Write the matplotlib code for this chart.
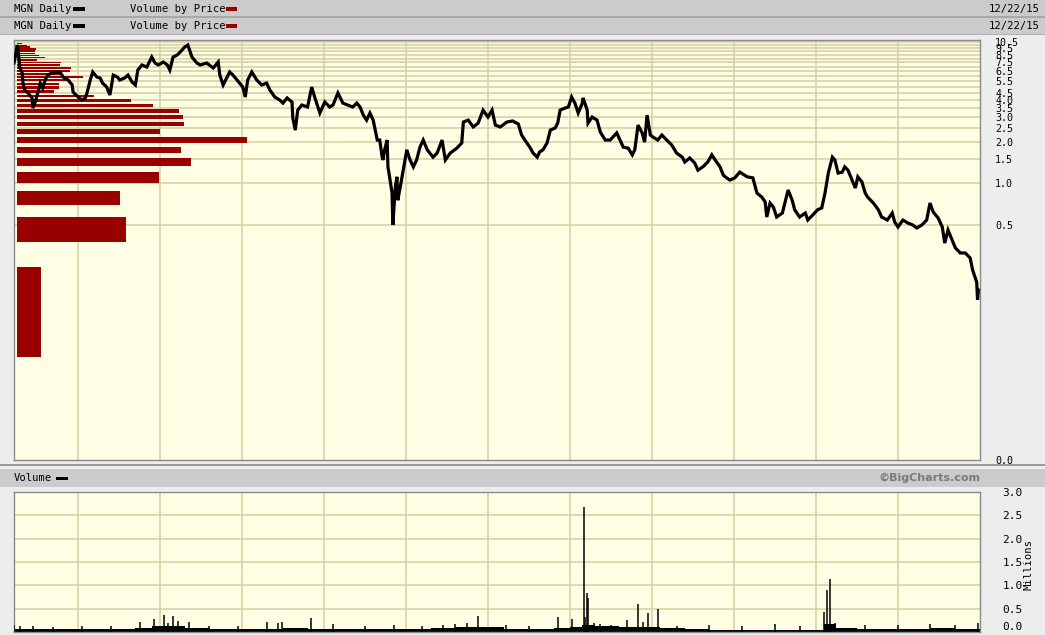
import matplotlib
matplotlib.use('Agg')
import matplotlib.pyplot as plt
from matplotlib.patches import Rectangle
from matplotlib.ticker import NullLocator
import numpy as np

# ---------------- data ----------------
price_years = [2004.22, 2004.24, 2004.26, 2004.28, 2004.29, 2004.32, 2004.33, 2004.35, 2004.39, 2004.44,
               2004.45, 2004.48, 2004.51, 2004.54, 2004.57, 2004.60, 2004.63, 2004.68, 2004.74, 2004.78,
               2004.82, 2004.88, 2004.93, 2004.94, 2005.00, 2005.05, 2005.09, 2005.11, 2005.15, 2005.18,
               2005.23, 2005.27, 2005.30, 2005.35, 2005.39, 2005.43, 2005.48, 2005.51, 2005.57, 2005.61,
               2005.66, 2005.70, 2005.73, 2005.78, 2005.84, 2005.90, 2005.94, 2005.98, 2006.04, 2006.09,
               2006.12, 2006.16, 2006.21, 2006.27, 2006.30, 2006.34, 2006.39, 2006.45, 2006.49, 2006.57,
               2006.65, 2006.71, 2006.73, 2006.77, 2006.85, 2006.89, 2006.94, 2007.01, 2007.04, 2007.07,
               2007.12, 2007.18, 2007.24, 2007.30, 2007.34, 2007.40, 2007.46, 2007.50, 2007.55, 2007.61,
               2007.62, 2007.65, 2007.68, 2007.73, 2007.80, 2007.85, 2007.89, 2007.95, 2008.01, 2008.07,
               2008.11, 2008.17, 2008.23, 2008.29, 2008.35, 2008.40, 2008.44, 2008.48, 2008.52, 2008.56,
               2008.60, 2008.62, 2008.65, 2008.68, 2008.71, 2008.72, 2008.74, 2008.77, 2008.78, 2008.80,
               2008.83, 2008.84, 2008.87, 2008.89, 2008.90, 2008.93, 2008.96, 2009.01, 2009.05, 2009.09,
               2009.13, 2009.17, 2009.21, 2009.26, 2009.29, 2009.33, 2009.38, 2009.44, 2009.48, 2009.54,
               2009.62, 2009.68, 2009.70, 2009.76, 2009.82, 2009.88, 2009.94, 2010.00, 2010.05, 2010.09,
               2010.15, 2010.23, 2010.30, 2010.37, 2010.41, 2010.45, 2010.51, 2010.55, 2010.60, 2010.63,
               2010.67, 2010.72, 2010.76, 2010.82, 2010.85, 2010.88, 2010.94, 2010.98, 2011.02, 2011.06,
               2011.10, 2011.15, 2011.16, 2011.21, 2011.22, 2011.27, 2011.33, 2011.37, 2011.43, 2011.49,
               2011.57, 2011.61, 2011.65, 2011.71, 2011.76, 2011.79, 2011.83, 2011.88, 2011.91, 2011.94,
               2011.98, 2012.01, 2012.07, 2012.12, 2012.18, 2012.24, 2012.30, 2012.37, 2012.40, 2012.46,
               2012.52, 2012.56, 2012.62, 2012.68, 2012.73, 2012.77, 2012.83, 2012.87, 2012.91, 2012.95,
               2013.01, 2013.07, 2013.16, 2013.23, 2013.28, 2013.34, 2013.38, 2013.40, 2013.44, 2013.48,
               2013.52, 2013.59, 2013.62, 2013.66, 2013.71, 2013.74, 2013.80, 2013.87, 2013.90, 2013.96,
               2014.02, 2014.07, 2014.11, 2014.15, 2014.20, 2014.23, 2014.27, 2014.32, 2014.35, 2014.39,
               2014.44, 2014.48, 2014.51, 2014.56, 2014.60, 2014.63, 2014.70, 2014.76, 2014.80, 2014.87,
               2014.93, 2014.96, 2015.00, 2015.06, 2015.12, 2015.18, 2015.23, 2015.29, 2015.35, 2015.39,
               2015.43, 2015.49, 2015.54, 2015.57, 2015.61, 2015.66, 2015.70, 2015.76, 2015.82, 2015.88,
               2015.91, 2015.96, 2015.97, 2015.98]
price_close = [7.42, 8.48, 10.02, 8.07, 6.94, 6.28, 5.31, 4.73, 4.50, 4.14,
               3.50, 3.87, 4.50, 5.31, 4.89, 5.59, 6.07, 6.28, 6.39, 6.39,
               5.87, 5.59, 5.14, 4.57, 4.21, 4.00, 4.14, 4.50, 5.59, 6.39,
               5.87, 5.78, 5.31, 4.97, 4.35, 6.07, 5.87, 5.59, 5.78, 6.07,
               5.40, 5.14, 6.60, 7.18, 6.94, 8.20, 7.42, 7.18, 7.55, 7.18,
               6.60, 8.20, 8.48, 9.22, 9.69, 10.02, 8.20, 7.42, 7.18, 7.42,
               6.83, 7.55, 6.07, 5.14, 6.39, 6.07, 5.59, 4.97, 4.21, 5.59,
               6.39, 5.59, 5.14, 5.31, 4.73, 4.21, 4.00, 3.80, 4.14, 3.87,
               2.96, 2.42, 3.38, 3.68, 3.56, 4.97, 4.14, 3.22, 3.87, 3.56,
               3.68, 4.50, 3.80, 3.68, 3.56, 3.80, 3.56, 3.11, 2.86, 3.22,
               2.86, 2.51, 2.05, 2.05, 1.54, 1.47, 1.74, 2.05, 1.31, 1.11,
               0.846, 0.496, 0.935, 1.11, 0.75, 0.935, 1.18, 1.74, 1.47, 1.31,
               1.47, 1.82, 2.05, 1.74, 1.65, 1.54, 1.65, 2.05, 1.47, 1.65,
               1.79, 1.95, 2.77, 2.86, 2.55, 2.72, 3.38, 3.01, 3.38, 2.63,
               2.55, 2.77, 2.82, 2.68, 2.23, 2.05, 1.82, 1.65, 1.54, 1.68,
               1.74, 1.95, 2.42, 2.51, 2.72, 3.38, 3.50, 3.56, 4.21, 3.80,
               3.22, 3.80, 4.14, 3.38, 2.72, 3.01, 2.86, 2.34, 2.05, 2.05,
               2.31, 2.05, 1.82, 1.79, 1.60, 1.74, 2.63, 2.31, 1.98, 3.11,
               2.23, 2.16, 2.05, 2.23, 2.05, 1.89, 1.65, 1.54, 1.42, 1.52,
               1.40, 1.24, 1.31, 1.42, 1.60, 1.47, 1.31, 1.14, 1.09, 1.05,
               1.09, 1.20, 1.11, 1.09, 0.846, 0.79, 0.73, 0.567, 0.716, 0.67,
               0.567, 0.606, 0.716, 0.89, 0.75, 0.64, 0.567, 0.606, 0.539, 0.586,
               0.64, 0.66, 0.846, 1.18, 1.54, 1.47, 1.18, 1.20, 1.31, 1.24,
               1.05, 0.92, 1.11, 1.02, 0.846, 0.79, 0.716, 0.64, 0.567, 0.539,
               0.606, 0.521, 0.48, 0.539, 0.513, 0.496, 0.472, 0.496, 0.539, 0.716,
               0.616, 0.557, 0.48, 0.367, 0.456, 0.386, 0.338, 0.311, 0.311, 0.286,
               0.234, 0.191, 0.142, 0.167]

# volume by price: price-bin centres and relative volume
vbp_price = [0.150, 0.468, 0.786, 1.104, 1.422, 1.740, 2.058, 2.376, 2.694, 3.012,
             3.330, 3.648, 3.966, 4.284, 4.602, 4.920, 5.238, 5.556, 5.874, 6.192,
             6.510, 6.828, 7.146, 7.464, 7.782, 8.100, 8.418, 8.736, 9.054, 9.372,
             9.690, 10.008, 10.326]
vbp_volume = [24, 109, 103, 142, 174, 164, 230, 143, 167, 166,
              162, 136, 114, 77, 37, 42, 42, 53, 66, 44,
              53, 54, 43, 44, 20, 28, 22, 18, 18, 19,
              13, 10, 5]

# daily volume (millions): typical base level and notable spikes
vol_base_years = [2004.22, 2004.5, 2004.8, 2005.1, 2005.4, 2005.7, 2005.9, 2006.1, 2006.3, 2006.6,
                  2006.9, 2007.2, 2007.5, 2007.8, 2008.1, 2008.4, 2008.7, 2009.0, 2009.3, 2009.6,
                  2009.9, 2010.2, 2010.5, 2010.8, 2011.0, 2011.15, 2011.3, 2011.6, 2011.9, 2012.1,
                  2012.4, 2012.7, 2013.0, 2013.3, 2013.6, 2013.9, 2014.1, 2014.25, 2014.5, 2014.8,
                  2015.1, 2015.4, 2015.7, 2016.0]
vol_base = [0.06, 0.07, 0.06, 0.07, 0.06, 0.08, 0.12, 0.13, 0.09, 0.06,
            0.07, 0.07, 0.08, 0.07, 0.06, 0.06, 0.07, 0.06, 0.08, 0.10,
            0.11, 0.07, 0.06, 0.08, 0.11, 0.15, 0.13, 0.10, 0.11, 0.08,
            0.06, 0.05, 0.05, 0.05, 0.05, 0.05, 0.17, 0.08, 0.06, 0.07,
            0.07, 0.08, 0.07, 0.09]
vol_spike_years = [2004.22, 2004.29, 2004.45, 2004.70, 2005.05, 2005.40, 2005.76, 2005.93, 2006.05, 2006.10,
                   2006.16, 2006.22, 2006.35, 2006.60, 2006.95, 2007.30, 2007.44, 2007.49, 2007.84, 2008.11,
                   2008.50, 2008.85, 2009.20, 2009.45, 2009.60, 2009.75, 2009.88, 2010.22, 2010.50, 2010.85,
                   2011.02, 2011.17, 2011.18, 2011.21, 2011.22, 2011.29, 2011.37, 2011.50, 2011.70, 2011.83,
                   2011.89, 2011.95, 2012.07, 2012.30, 2012.70, 2013.10, 2013.50, 2013.80, 2014.10, 2014.13,
                   2014.17, 2014.23, 2014.60, 2015.00, 2015.39, 2015.70, 2015.98]
vol_spikes = [0.15, 0.13, 0.12, 0.11, 0.12, 0.12, 0.22, 0.27, 0.36, 0.19,
              0.35, 0.24, 0.21, 0.13, 0.12, 0.21, 0.20, 0.22, 0.30, 0.17,
              0.12, 0.14, 0.13, 0.16, 0.18, 0.20, 0.35, 0.16, 0.12, 0.33,
              0.28, 2.68, 0.33, 0.83, 0.73, 0.20, 0.18, 0.16, 0.26, 0.60,
              0.22, 0.40, 0.49, 0.13, 0.15, 0.12, 0.17, 0.12, 0.42, 0.90,
              1.13, 0.19, 0.14, 0.15, 0.17, 0.14, 0.20]

year_grid = [2005, 2006, 2007, 2008, 2009, 2010, 2011, 2012, 2013, 2014, 2015]
price_tick_vals = [10.5, 9.5, 8.5, 7.5, 6.5, 5.5, 4.5, 4.0, 3.5, 3.0, 2.5, 2.0, 1.5, 1.0, 0.5]
vol_tick_vals = [0.0, 0.5, 1.0, 1.5, 2.0, 2.5, 3.0]

# ---------------- styling ----------------
W, H = 1045, 635
BG = '#EDEDED'
STRIP = '#CBCBCB'
FACE = '#FFFEE4'
GRID = '#D3D0A3'
RED = '#990000'
MONO = 'DejaVu Sans Mono'

fig = plt.figure(figsize=(W / 100, H / 100), dpi=100)
fig.patch.set_facecolor(BG)


def fx(px):
    return px / W


def fy(py):
    return 1 - py / H


def strip(y0, y1, color=STRIP):
    fig.patches.append(Rectangle((0, fy(y1)), 1, (y1 - y0) / H, transform=fig.transFigure,
                                 facecolor=color, edgecolor='none', zorder=0))


strip(0, 16)
strip(16, 18, '#A8A8A8')
strip(18, 34)
strip(34, 35, '#B0B0B0')
strip(464, 466, '#9A9A9A')
strip(469, 487)

fs = 7.6
for ytop in (9, 26):
    fig.text(fx(14), fy(ytop), 'MGN Daily', fontsize=fs, family=MONO, va='center', ha='left')
    fig.patches.append(Rectangle((fx(73), fy(ytop + 1.5)), 12 / W, 3 / H, transform=fig.transFigure,
                                 facecolor='black', edgecolor='none'))
    fig.text(fx(130), fy(ytop), 'Volume by Price', fontsize=fs, family=MONO, va='center', ha='left')
    fig.patches.append(Rectangle((fx(226), fy(ytop + 1.5)), 11 / W, 3 / H, transform=fig.transFigure,
                                 facecolor=RED, edgecolor='none'))
    fig.text(fx(1040), fy(ytop), '12/22/15', fontsize=fs, family=MONO, va='center', ha='right')

fig.text(fx(14), fy(478), 'Volume', fontsize=fs, family=MONO, va='center', ha='left')
fig.patches.append(Rectangle((fx(56), fy(479.5)), 12 / W, 3 / H, transform=fig.transFigure,
                             facecolor='black', edgecolor='none'))
fig.text(fx(981), fy(478), '\u00a9BigCharts.com', fontsize=8, family='DejaVu Sans',
         weight='bold', color='#7A7A7A', va='center', ha='right')

# ---------------- main price panel ----------------
ax = fig.add_axes([fx(14), fy(460), 966 / W, 420 / H])
ax.set_facecolor(FACE)
ax.set_yscale('log')
ax.set_ylim(0.0098, 10.9)
x0, x1 = 2004.22, 2016.0
ax.set_xlim(x0, x1)

for yr in year_grid:
    ax.axvline(yr, color=GRID, lw=1.1, zorder=1)
for lvl in np.arange(0.5, 10.51, 0.5):
    ax.axhline(lvl, color=GRID, lw=1.1, zorder=1)

vmax = max(vbp_volume)
bar_w = [v / vmax * (230 / 966) for v in vbp_volume]
ax.barh(vbp_price, bar_w, left=3 / 966, height=0.19, color=RED, edgecolor='none',
        transform=ax.get_yaxis_transform(), zorder=2)
ax.set_xlim(x0, x1)
ax.set_ylim(0.0098, 10.9)

ax.plot(price_years, price_close, color='black', lw=2.3, zorder=3, solid_joinstyle='miter')

ax.yaxis.tick_right()
ax.yaxis.set_minor_locator(NullLocator())
ax.set_yticks(price_tick_vals + [0.0098])
ax.set_yticklabels([f'{v:.1f}' for v in price_tick_vals] + ['0.0'])
ax.tick_params(axis='y', length=0, pad=11, labelsize=7.2)
for t in ax.get_yticklabels():
    t.set_family(MONO)
ax.set_xticks([])
for s in ax.spines.values():
    s.set_color('#8A8A8A')
    s.set_linewidth(1.0)

# ---------------- volume panel ----------------
axv = fig.add_axes([fx(14), fy(632), 966 / W, 140 / H])
axv.set_facecolor(FACE)
axv.set_xlim(x0, x1)
axv.set_ylim(0, 3.0)
for yr in year_grid:
    axv.axvline(yr, color=GRID, lw=1.1, zorder=1)
for lvl in vol_tick_vals[1:-1]:
    axv.axhline(lvl, color=GRID, lw=1.1, zorder=1)
axv.fill_between(vol_base_years, vol_base, step='post', color='black', lw=0, zorder=2)
axv.vlines(vol_spike_years, 0, vol_spikes, color='black', lw=1.1, zorder=3)
axv.yaxis.tick_right()
axv.set_yticks(vol_tick_vals)
axv.set_yticklabels([f'{v:.1f}' for v in vol_tick_vals])
axv.tick_params(axis='y', length=0, pad=16, labelsize=8)
for t in axv.get_yticklabels():
    t.set_family(MONO)
axv.get_yticklabels()[0].set_verticalalignment('bottom')
axv.set_xticks([])
for s in axv.spines.values():
    s.set_color('#8A8A8A')
    s.set_linewidth(1.0)
fig.text(fx(1029), fy(564), 'Millions', rotation=90, fontsize=7.6, family=MONO,
         va='center', ha='center')

fig.savefig('out.png', dpi=100, facecolor=fig.get_facecolor())
